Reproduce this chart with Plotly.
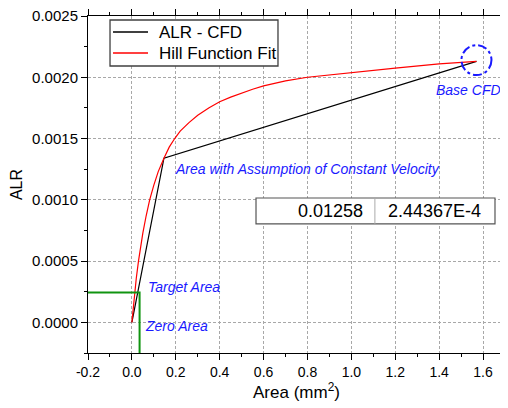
import plotly.graph_objects as go

# ---- data ----
cfd_area = [0.0, 0.146, 1.57]
cfd_alr = [0.0, 0.00134, 0.00213]

fit_area = [0.0, 0.005, 0.013, 0.02, 0.03, 0.04, 0.05, 0.065, 0.081, 0.1, 0.12, 0.146,
            0.17, 0.195, 0.22, 0.26, 0.3, 0.35, 0.4, 0.45, 0.5, 0.55, 0.6, 0.7, 0.8,
            0.9, 1.0, 1.2, 1.4, 1.57]
fit_alr = [0.0, 0.000105, 0.000244, 0.00036, 0.0005, 0.00062, 0.00073, 0.00087, 0.001,
           0.00112, 0.00123, 0.00134, 0.00143, 0.0015, 0.00156, 0.00163, 0.00169, 0.00175,
           0.0018, 0.001838, 0.001872, 0.001902, 0.00193, 0.00197, 0.002, 0.00202, 0.00204,
           0.002075, 0.00211, 0.00213]

target_guide_area = 0.035
target_guide_alr = 0.000244

table_values = ["0.01258", "2.44367E-4"]
legend_names = ["ALR - CFD", "Hill Function Fit"]
legend_colors = ["black", "#ff0000"]

base_cfd_center = (1.57, 0.00214)

x_ticks = [-0.2, 0.0, 0.2, 0.4, 0.6, 0.8, 1.0, 1.2, 1.4, 1.6]
y_ticks = [0.0, 0.0005, 0.001, 0.0015, 0.002, 0.0025]

FONT = "Liberation Sans, Arial, sans-serif"
BLUE = "#1a1aff"

fig = go.Figure()
fig.add_trace(go.Scatter(x=cfd_area, y=cfd_alr, mode="lines", name=legend_names[0],
                         showlegend=False, line=dict(color=legend_colors[0], width=1.2)))
fig.add_trace(go.Scatter(x=fit_area, y=fit_alr, mode="lines", name=legend_names[1],
                         showlegend=False, line=dict(color=legend_colors[1], width=1.2)))

# green target guide lines
fig.add_trace(go.Scatter(x=[-0.2, target_guide_area, target_guide_area],
                         y=[target_guide_alr, target_guide_alr, -0.00025],
                         mode="lines", showlegend=False, cliponaxis=False,
                         line=dict(color="#109410", width=2)))

axis_common = dict(showline=True, linecolor="black", linewidth=1, mirror="allticks",
                   ticks="outside", ticklen=6, tickcolor="black", tickwidth=1,
                   showgrid=True, gridcolor="#a8a8a8", gridwidth=1, griddash="3px,2px",
                   zeroline=False, automargin=False, ticklabeloverflow="allow")

fig.update_xaxes(range=[-0.2, 1.7], tickvals=x_ticks, ticktext=[f"{v:.1f}" for v in x_ticks],
                 minor=dict(ticks="outside", ticklen=3, dtick=0.1, tick0=-0.2, tickcolor="black",
                            showgrid=False),
                 tickfont=dict(family=FONT, size=14, color="black"),
                 title=dict(text="Area (mm<sup>2</sup>)", font=dict(family=FONT, size=17, color="black"),
                            standoff=7),
                 **axis_common)
fig.update_yaxes(range=[-0.00025, 0.0025], tickvals=y_ticks, ticktext=[f"{v:.4f}" for v in y_ticks],
                 minor=dict(ticks="outside", ticklen=3, dtick=0.00025, tick0=0, tickcolor="black",
                            showgrid=False),
                 tickfont=dict(family=FONT, size=15, color="black"),
                 title=dict(text="ALR", font=dict(family=FONT, size=16, color="black"), standoff=7),
                 **axis_common)

# blue dash-dot circle around base CFD point
cx, cy = base_cfd_center
rx, ry = 0.0684, 0.0001224
fig.add_shape(type="circle", xref="x", yref="y", x0=cx - rx, x1=cx + rx, y0=cy - ry, y1=cy + ry,
              line=dict(color=BLUE, width=2, dash="dashdot"))

# legend box (drawn manually to match the reference layout)
fig.add_shape(type="rect", xref="paper", yref="paper", x0=0.0528, x1=0.4556, y0=0.8516, y1=0.9881,
              line=dict(color="#404040", width=1.3), fillcolor="white", layer="above")
legend_rows_y = [0.9525, 0.8902]
for name, color, ly in zip(legend_names, legend_colors, legend_rows_y):
    fig.add_shape(type="line", xref="paper", yref="paper", x0=0.06, x1=0.1439, y0=ly, y1=ly,
                  line=dict(color=color, width=1.3), layer="above")
    fig.add_annotation(xref="paper", yref="paper", x=0.165, y=ly, text=name, showarrow=False,
                       xanchor="left", yanchor="middle",
                       font=dict(family=FONT, size=17, color="black"))

# table box
fig.add_shape(type="rect", xref="paper", yref="paper", x0=0.4029, x1=0.976, y0=0.383, y1=0.46,
              line=dict(color="#555555", width=1.2), fillcolor="white", layer="above")
fig.add_shape(type="line", xref="paper", yref="paper", x0=0.688, x1=0.688, y0=0.383, y1=0.46,
              line=dict(color="#aaaaaa", width=1), layer="above")
fig.add_annotation(xref="paper", yref="paper", x=0.665, y=0.4215, text=table_values[0],
                   showarrow=False, xanchor="right", yanchor="middle",
                   font=dict(family=FONT, size=18, color="black"))
fig.add_annotation(xref="paper", yref="paper", x=0.832, y=0.4215, text=table_values[1],
                   showarrow=False, xanchor="center", yanchor="middle",
                   font=dict(family=FONT, size=18, color="black"))

ann_font = dict(family=FONT, size=14, color=BLUE)
fig.add_annotation(x=0.186, y=0.001251, text="<i>Area with Assumption of Constant Velocity</i>",
                   showarrow=False, xanchor="left", yanchor="middle", font=ann_font)
fig.add_annotation(x=1.69, y=0.001896, text="<i>Base CFD</i>", showarrow=False,
                   xanchor="right", yanchor="middle", font=ann_font)
fig.add_annotation(x=0.064, y=0.000288, text="<i>Target Area</i>", showarrow=False,
                   xanchor="left", yanchor="middle", font=ann_font)
fig.add_annotation(x=0.049, y=-0.00003, text="<i>Zero Area</i>", showarrow=False,
                   xanchor="left", yanchor="middle", font=ann_font)

# page body has an 8px margin, so the figure is 500x400 to fill the 508x408 window
fig.update_layout(
    width=500, height=400,
    margin=dict(l=80, r=3, t=8, b=55),
    paper_bgcolor="white", plot_bgcolor="white",
    font=dict(family=FONT, color="black"),
    showlegend=False,
)

fig.write_html("out.html")
